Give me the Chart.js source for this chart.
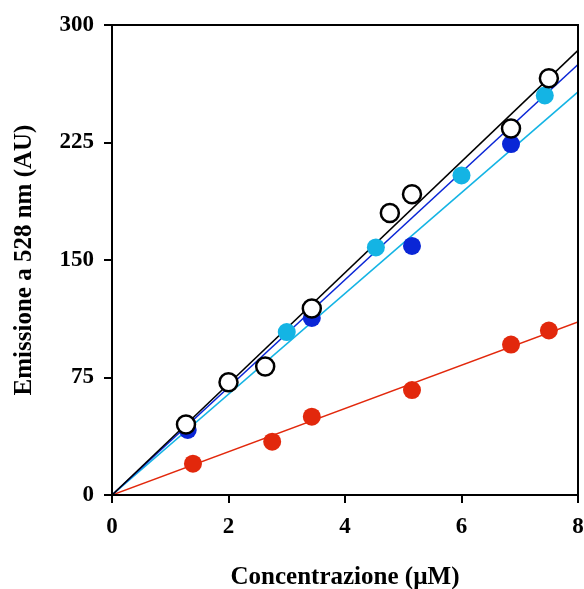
<!DOCTYPE html>
<html>
<head>
<meta charset="utf-8">
<script src="https://cdn.jsdelivr.net/npm/chart.js@4.4.0/dist/chart.umd.min.js"></script>
<style>
  html, body { margin: 0; padding: 0; background: #fff; }
  #grafico { display: block; }
</style>
</head>
<body>
<canvas id="grafico" width="584" height="589"></canvas>
<script>
// tick dell'asse
const xTicks = [0, 2, 4, 6, 8];
const yTicks = [0, 75, 150, 225, 300];

// serie
const apertiX = [1.27, 2.0, 2.63, 3.43, 4.77, 5.15, 6.85, 7.5];
const apertiY = [45, 72, 82, 119, 180, 192, 234, 266];
const bluX = [1.3, 3.43, 5.15, 6.85];
const bluY = [41.5, 113, 159, 224];
const azzurriX = [3.0, 4.53, 6.0, 7.43];
const azzurriY = [104, 158, 204, 255];
const rossiX = [1.39, 2.75, 3.43, 5.15, 6.85, 7.5];
const rossiY = [20, 34, 50, 67, 96, 105];

const NERO = "#000000";
const BLU = "#0a26d6";
const AZZURRO = "#14b4e4";
const ROSSO = "#e2280c";

const punti = (xs, ys) => xs.map((x, i) => ({ x, y: ys[i] }));

// retta di regressione passante per l'origine
function retta(xs, ys) {
  let sxy = 0, sxx = 0;
  xs.forEach((x, i) => { sxy += x * ys[i]; sxx += x * x; });
  const m = sxy / sxx;
  const xMax = xTicks[xTicks.length - 1];
  return [{ x: 0, y: 0 }, { x: xMax, y: m * xMax }];
}

const cornice = {
  id: "cornice",
  afterDatasetsDraw(chart) {
    const { ctx, chartArea: a } = chart;
    ctx.save();
    ctx.strokeStyle = "#000";
    ctx.lineWidth = 2;
    ctx.strokeRect(a.left, a.top, a.right - a.left, a.bottom - a.top);
    ctx.restore();
  },
};

const font = "'Liberation Serif', 'Times New Roman', serif";

const linea = (data, color, order) => ({
  type: "line",
  data,
  borderColor: color,
  borderWidth: 1.5,
  pointRadius: 0,
  fill: false,
  order,
});

const marcatori = (data, fill, border, order) => ({
  type: "scatter",
  data,
  backgroundColor: fill,
  borderColor: border,
  borderWidth: fill === "#ffffff" ? 2.5 : 0,
  pointRadius: 9,
  order,
});

new Chart(document.getElementById("grafico"), {
  type: "scatter",
  plugins: [cornice],
  data: {
    datasets: [
      linea(retta(rossiX, rossiY), ROSSO, 10),
      linea(retta(bluX, bluY), AZZURRO, 9),
      linea(retta(azzurriX, azzurriY), BLU, 8),
      linea(retta(apertiX, apertiY), NERO, 7),
      marcatori(punti(rossiX, rossiY), ROSSO, ROSSO, 4),
      marcatori(punti(bluX, bluY), BLU, BLU, 3),
      marcatori(punti(azzurriX, azzurriY), AZZURRO, AZZURRO, 2),
      marcatori(punti(apertiX, apertiY), "#ffffff", NERO, 1),
    ],
  },
  options: {
    responsive: false,
    animation: false,
    events: [],
    layout: { autoPadding: false, padding: { top: 25, right: 6, left: 0, bottom: 0 } },
    plugins: {
      legend: { display: false },
      tooltip: { enabled: false },
    },
    scales: {
      x: {
        type: "linear",
        min: xTicks[0],
        max: xTicks[xTicks.length - 1],
        afterBuildTicks: (s) => { s.ticks = xTicks.map((v) => ({ value: v })); },
        afterFit: (s) => { s.height = 94; s.paddingLeft = 0; s.paddingRight = 0; },
        border: { display: true, color: "#000", width: 2 },
        grid: { drawOnChartArea: false, drawTicks: true, tickLength: 8, color: "#000", lineWidth: 2 },
        ticks: { color: "#000", padding: 10, font: { family: font, size: 23, weight: "bold" } },
        title: {
          display: true,
          text: "Concentrazione (\u00b5M)",
          color: "#000",
          padding: { top: 14, bottom: -4 },
          font: { family: font, size: 25, weight: "bold" },
        },
      },
      y: {
        type: "linear",
        min: yTicks[0],
        max: yTicks[yTicks.length - 1],
        afterBuildTicks: (s) => { s.ticks = yTicks.map((v) => ({ value: v })); },
        afterFit: (s) => { s.width = 112; s.paddingTop = 0; s.paddingBottom = 0; },
        border: { display: true, color: "#000", width: 2 },
        grid: { drawOnChartArea: false, drawTicks: true, tickLength: 8, color: "#000", lineWidth: 2 },
        ticks: { color: "#000", padding: 10, font: { family: font, size: 23, weight: "bold" } },
        title: {
          display: true,
          text: "Emissione a 528 nm (AU)",
          color: "#000",
          padding: { top: 10, bottom: 0 },
          font: { family: font, size: 25, weight: "bold" },
        },
      },
    },
  },
});
</script>
</body>
</html>
